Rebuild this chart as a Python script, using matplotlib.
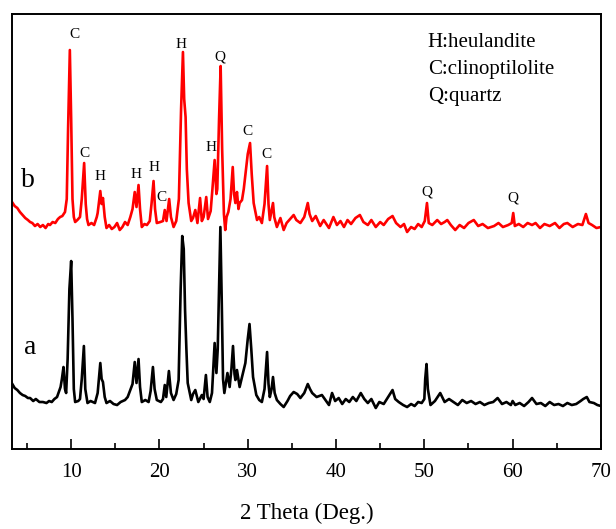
import matplotlib
matplotlib.use("Agg")
import matplotlib.pyplot as plt
from matplotlib.ticker import MultipleLocator

plt.rcParams['font.family'] = ['Liberation Serif', 'DejaVu Serif']

# sample b (red), 2theta in degrees, intensity in a.u.
tth_b = [3.3, 3.6, 3.9, 4.2, 4.5, 4.8, 5.1, 5.35, 5.6, 5.9, 6.2, 6.5, 6.8, 7.1, 7.4, 7.6,
         7.9, 8.2, 8.5, 8.75, 9.0, 9.3, 9.5, 9.65, 9.85, 10.0, 10.15, 10.3, 10.45, 10.7,
         11.0, 11.2, 11.47, 11.65, 11.8, 11.96, 12.3, 12.6, 12.9, 13.0, 13.3, 13.45, 13.6,
         13.8, 14.0, 14.3, 14.6, 14.9, 15.2, 15.5, 15.8, 16.1, 16.4, 16.7, 16.95, 17.2,
         17.4, 17.63, 17.8, 18.0, 18.3, 18.58, 18.9, 19.1, 19.33, 19.5, 19.7, 20.1, 20.4,
         20.6, 20.8, 21.1, 21.3, 21.6, 21.9, 22.2, 22.45, 22.66, 22.8, 22.96, 23.1, 23.3,
         23.6, 23.8, 24.06, 24.3, 24.6, 24.8, 25.0, 25.3, 25.5, 25.8, 26.0, 26.25, 26.45,
         26.55, 26.75, 26.93, 27.1, 27.3, 27.45, 27.6, 27.8, 28.05, 28.3, 28.45, 28.6,
         28.78, 28.95, 29.08, 29.35, 29.55, 29.7, 30.0, 30.26, 30.45, 30.67, 31.05, 31.3,
         31.6, 31.9, 32.19, 32.35, 32.5, 32.86, 33.0, 33.3, 33.7, 34.07, 34.4, 34.8, 35.2,
         35.5, 35.96, 36.4, 36.8, 37.0, 37.3, 37.7, 38.2, 38.6, 39.2, 39.7, 40.1, 40.5,
         40.9, 41.3, 41.7, 42.2, 42.7, 43.1, 43.6, 44.0, 44.5, 45.0, 45.4, 45.9, 46.4,
         46.8, 47.3, 47.7, 48.05, 48.5, 48.9, 49.3, 49.7, 50.05, 50.3, 50.5, 50.9, 51.46,
         51.9, 52.3, 52.6, 53.0, 53.5, 54.0, 54.5, 55.0, 55.6, 56.1, 56.6, 57.2, 57.9,
         58.4, 58.9, 59.5, 59.9, 60.07, 60.25, 60.7, 61.2, 61.7, 62.2, 62.6, 63.1, 63.6,
         64.2, 64.8, 65.3, 65.8, 66.2, 66.8, 67.4, 67.9, 68.3, 68.6, 69.0, 69.5, 70.0]
int_b = [247, 243, 241, 237, 234, 231, 229, 227, 226, 223, 225, 222, 224, 221, 225, 224,
         227, 226, 230, 232, 233, 237, 250, 320, 399, 330, 250, 232, 227, 229,
         232, 250, 286, 245, 230, 224, 226, 224, 232, 236, 258, 245, 251,
         232, 221, 224, 220, 222, 226, 219, 222, 227, 224, 232, 240, 257,
         242, 264, 240, 222, 225, 224, 228, 245, 268, 240, 226, 227, 228,
         239, 228, 250, 232, 222, 228, 250, 340, 397, 350, 332, 280, 246,
         228, 231, 239, 226, 251, 228, 232, 252, 230, 238, 260, 289, 255,
         260, 330, 383, 300, 235, 219, 232, 237, 250, 282, 255, 246,
         257, 240, 246, 249, 260, 272, 295, 306, 275, 246, 229, 232,
         226, 245, 283, 245, 229, 246, 232, 222, 231, 219, 226, 230, 234,
         229, 226, 232, 246, 235, 228, 233, 223, 229, 221, 232, 224, 228,
         222, 229, 225, 231, 234, 227, 224, 229, 222, 227, 224, 230, 233,
         226, 222, 225, 217, 222, 220, 225, 222, 228, 246, 226, 224, 229,
         225, 227, 229, 224, 219, 224, 221, 226, 229, 223, 225, 221, 223,
         226, 222, 224, 226, 236, 223, 225, 222, 226, 224, 226, 221, 225,
         223, 226, 221, 225, 226, 222, 225, 224, 235, 226, 224, 221, 222]

# sample a (black)
tth_a = [3.27, 3.6, 3.9, 4.2, 4.5, 4.8, 5.1, 5.35, 5.7, 6.0, 6.4, 6.8, 7.2, 7.5, 7.8, 8.1,
         8.4, 8.56, 8.8, 8.95, 9.13, 9.3, 9.43, 9.6, 9.8, 10.0, 10.15, 10.3, 10.45, 10.8,
         11.0, 11.2, 11.44, 11.6, 11.85, 12.2, 12.7, 13.0, 13.3, 13.45, 13.6, 13.8, 14.0,
         14.4, 14.8, 15.2, 15.6, 16.1, 16.4, 16.7, 16.95, 17.2, 17.4, 17.63, 17.8, 18.0,
         18.4, 18.77, 19.0, 19.26, 19.45, 19.7, 20.16, 20.4, 20.6, 20.77, 21.07, 21.3,
         21.6, 21.9, 22.17, 22.4, 22.58, 22.75, 22.9, 23.05, 23.2, 23.6, 23.8, 24.06,
         24.4, 24.8, 25.0, 25.26, 25.45, 25.7, 25.95, 26.25, 26.45, 26.6, 26.9, 27.05,
         27.2, 27.35, 27.7, 27.95, 28.15, 28.33, 28.5, 28.6, 28.78, 29.08, 29.35, 29.73,
         30.0, 30.2, 30.4, 30.6, 30.97, 31.3, 31.6, 31.9, 32.19, 32.35, 32.5, 32.7, 32.86,
         33.05, 33.3, 33.7, 34.07, 34.5, 34.8, 35.2, 35.6, 35.96, 36.4, 36.8, 37.05, 37.3,
         37.8, 38.4, 38.8, 39.2, 39.55, 39.9, 40.3, 40.7, 41.1, 41.5, 41.9, 42.3, 42.8,
         43.2, 43.6, 44.0, 44.5, 44.9, 45.4, 45.9, 46.4, 46.7, 47.1, 47.6, 48.05, 48.5,
         48.9, 49.3, 49.7, 50.0, 50.1, 50.25, 50.4, 50.7, 51.2, 51.8, 52.3, 52.8, 53.3,
         53.8, 54.3, 54.8, 55.3, 55.8, 56.3, 56.8, 57.3, 57.8, 58.3, 58.8, 59.3, 59.8,
         60.0, 60.3, 60.8, 61.3, 61.8, 62.2, 62.7, 63.2, 63.7, 64.2, 64.7, 65.2, 65.7,
         66.2, 66.7, 67.2, 67.7, 68.0, 68.4, 68.7, 69.2, 69.6, 70.0]
int_a = [66, 61, 59, 56, 54, 53, 51, 51, 48, 50, 47, 47, 46, 48, 47, 50,
         52, 56, 62, 70, 82, 60, 56, 90, 160, 188, 130, 60, 47, 48,
         50, 70, 103, 60, 46, 48, 46, 56, 86, 70, 67, 52, 46,
         48, 45, 44, 47, 49, 52, 59, 65, 87, 66, 90, 62, 47,
         49, 47, 58, 82, 60, 49, 47, 50, 64, 52, 78, 56,
         49, 55, 69, 160, 213, 200, 139, 100, 66, 49, 55, 59,
         47, 54, 50, 74, 52, 47, 56, 106, 76, 100, 222, 150,
         70, 56, 76, 62, 80, 103, 75, 69, 79, 62, 72, 86,
         110, 125, 100, 72, 54, 49, 47, 60, 97, 65, 52, 60, 72,
         56, 49, 45, 42, 48, 53, 57, 55, 51, 56, 65, 60, 56,
         52, 54, 49, 44, 56, 48, 51, 45, 50, 47, 52, 48, 56,
         50, 46, 50, 41, 47, 45, 52, 59, 50, 47, 44, 42, 45,
         43, 47, 46, 50, 70, 85, 60, 44, 48, 56, 47, 50, 47,
         44, 49, 46, 48, 45, 47, 44, 46, 47, 51, 45, 47, 44,
         48, 44, 46, 43, 47, 51, 45, 46, 43, 47, 44, 45, 43,
         46, 44, 45, 48, 50, 52, 47, 46, 44, 43]

# phase labels above the peaks of curve b
lab_text = ['C', 'C', 'H', 'H', 'H', 'C', 'H', 'Q', 'H', 'C', 'C', 'Q', 'Q']
lab_x = [10.4, 11.5, 13.3, 17.4, 19.4, 20.2, 22.4, 26.8, 25.8, 30.0, 32.1, 50.3, 60.0]
lab_y = [415, 296, 273, 275, 282, 252, 405, 392, 302, 318, 295, 257, 251]

legend_lines = ['H:heulandite', 'C:clinoptilolite', 'Q:quartz']

fig = plt.figure(figsize=(6.16, 5.29), dpi=100)
ax = fig.add_axes([0.0195, 0.1512, 0.956, 0.8223])

ax.plot(tth_a, int_a, color='black', lw=1.9)
ax.plot(tth_b, int_b, color='red', lw=1.9)

for t, x, y in zip(lab_text, lab_x, lab_y):
    ax.text(x, y, t, ha='center', va='center', fontsize=11)

for i, s in enumerate(legend_lines):
    ax.text(50.4, 407 - i * 27, s, ha='left', va='center', fontsize=15)

ax.text(5.1, 269, 'b', ha='center', va='center', fontsize=20)
ax.text(5.4, 102, 'a', ha='center', va='center', fontsize=20)

ax.set_xlim(3.3, 70)
ax.set_ylim(0, 435)
ax.xaxis.set_major_locator(MultipleLocator(10))
ax.xaxis.set_minor_locator(MultipleLocator(5))
ax.tick_params(axis='x', which='major', direction='in', length=7, width=1.2,
               labelsize=15, pad=10)
ax.tick_params(axis='x', which='minor', direction='in', length=4, width=1.2)
ax.set_yticks([])
for sp in ax.spines.values():
    sp.set_linewidth(1.4)
ax.set_xlabel('2 Theta (Deg.)', fontsize=16.5, labelpad=15)

fig.savefig('out.png', dpi=100)
